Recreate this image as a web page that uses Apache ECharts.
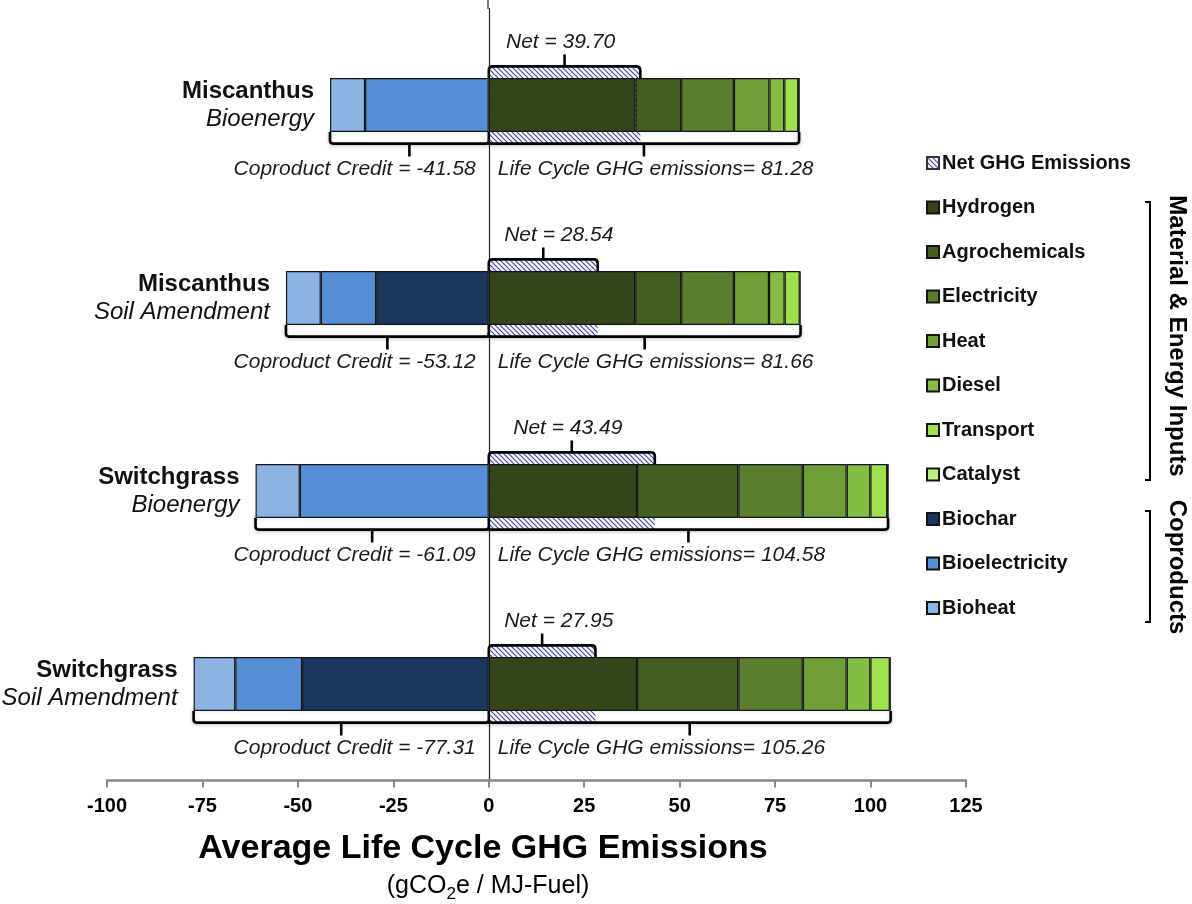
<!DOCTYPE html>
<html>
<head>
<meta charset="utf-8">
<script src="https://cdn.jsdelivr.net/npm/echarts@6/dist/echarts.min.js"></script>
<style>
html,body{margin:0;padding:0;background:#fff;}
#chart{width:1192px;height:904px;}
</style>
</head>
<body>
<div id="chart"></div>
<script>
// ---- data ----
const crops = ['Miscanthus', 'Miscanthus', 'Switchgrass', 'Switchgrass'];
const pathways = ['Bioenergy', 'Soil Amendment', 'Bioenergy', 'Soil Amendment'];
const hydrogen = [38.4, 38.35, 38.85, 38.85];
const agrochemicals = [12.0, 12.05, 26.5, 26.5];
const electricity = [13.8, 13.8, 16.9, 16.9];
const heat = [9.3, 9.2, 11.5, 11.5];
const diesel = [3.9, 4.1, 6.2, 6.2];
const transport = [3.68, 3.96, 4.43, 5.11];
const catalyst = [0.2, 0.2, 0.2, 0.2];
const biochar = [0, -29.5, 0, -48.9];
const bioelectricity = [-32.4, -14.5, -49.5, -17.5];
const bioheat = [-9.18, -9.12, -11.59, -10.91];
const netGHG = [39.70, 28.54, 43.49, 27.95];
const coproductCredit = [-41.58, -53.12, -61.09, -77.31];
const lifeCycleGHG = [81.28, 81.66, 104.58, 105.26];
const xTicks = [-100, 125, 25]; // min, max, step

const FONT = '"Liberation Sans", Arial, sans-serif';
const categories = crops.map((c, i) => c + ' ' + pathways[i]);

// hatch pattern
const pc = document.createElement('canvas');
pc.width = 5; pc.height = 5;
const pctx = pc.getContext('2d');
pctx.fillStyle = '#ffffff'; pctx.fillRect(0, 0, 5, 5);
pctx.strokeStyle = '#4545b0'; pctx.lineWidth = 1.2;
pctx.beginPath();
pctx.moveTo(-1, -1); pctx.lineTo(6, 6);
pctx.moveTo(-1, 4); pctx.lineTo(1, 6);
pctx.moveTo(4, -1); pctx.lineTo(6, 1);
pctx.stroke();
const hatch = { image: pc, repeat: 'repeat' };

const BAR_FRAC = 0.28;   // bar thickness relative to band
const NET_FRAC = 0.20;   // half height of net/bracket relative to band
const ANNOT_FONT = 'italic 21px ' + FONT;

const segStyle = (color) => ({
  color: color, borderColor: '#151515', borderWidth: 1.2
});

function barSeries(name, data, color, extra) {
  return Object.assign({
    name: name, type: 'bar', stack: 'total', data: data,
    barWidth: (BAR_FRAC * 100) + '%', z: 3,
    itemStyle: segStyle(color)
  }, extra || {});
}

const customData = categories.map((c, i) => [i, coproductCredit[i], lifeCycleGHG[i], netGHG[i]]);

const series = [
  // white strip behind bars
  {
    type: 'custom', name: 'strip', z: 1, silent: true, data: customData,
    encode: { y: 0, x: [1, 2] },
    renderItem(params, api) {
      const i = api.value(0);
      const l = api.coord([api.value(1), i]);
      const r = api.coord([api.value(2), i]);
      const bh = api.size([0, 1])[1];
      const cy = l[1];
      const y0 = cy + bh * BAR_FRAC / 2 - 2;
      const y1 = cy + bh * NET_FRAC;
      return {
        type: 'rect',
        shape: { x: l[0], y: y0, width: r[0] - l[0], height: y1 - y0 },
        style: { fill: '#ffffff', stroke: '#d0d0d0', lineWidth: 1, shadowBlur: 4, shadowColor: 'rgba(0,0,0,0.3)', shadowOffsetY: 1 }
      };
    }
  },
  // net GHG emissions
  {
    type: 'custom', name: 'Net GHG Emissions', z: 2, data: customData,
    encode: { y: 0, x: [3] },
    itemStyle: { color: hatch, borderColor: '#333', borderWidth: 1 },
    renderItem(params, api) {
      const i = api.value(0);
      const z0 = api.coord([0, i]);
      const n = api.coord([api.value(3), i]);
      const bh = api.size([0, 1])[1];
      const cy = z0[1];
      const yt = cy - bh * NET_FRAC;
      const yb = cy + bh * NET_FRAC;
      const ybar = cy - bh * BAR_FRAC / 2;
      const x0 = z0[0], x1 = n[0], rr = 4;
      const mid = (x0 + x1) / 2;
      const path = `M${x0} ${ybar}L${x0} ${yt + rr}Q${x0} ${yt} ${x0 + rr} ${yt}L${x1 - rr} ${yt}Q${x1} ${yt} ${x1} ${yt + rr}L${x1} ${ybar}M${mid} ${yt}L${mid} ${yt - 12}`;
      return {
        type: 'group',
        children: [
          { type: 'rect', shape: { x: x0, y: yt, width: x1 - x0, height: yb - yt }, style: { fill: hatch } },
          { type: 'path', shape: { pathData: path }, style: { fill: null, stroke: '#000', lineWidth: 2.6 } },
          { type: 'text', x: Math.max(mid - 4, x0 + 70), y: cy - bh * 0.325,
            style: { text: 'Net = ' + api.value(3).toFixed(2), fill: '#1a1a1a', font: ANNOT_FONT, align: 'center', verticalAlign: 'middle' } }
        ]
      };
    }
  },
  barSeries('Hydrogen', hydrogen, '#34451c'),
  barSeries('Agrochemicals', agrochemicals, '#445d21'),
  barSeries('Electricity', electricity, '#5a7e2d'),
  barSeries('Heat', heat, '#6f9d38'),
  barSeries('Diesel', diesel, '#84bc44'),
  barSeries('Transport', transport, '#9de24d'),
  barSeries('Catalyst', catalyst, '#bdf07a'),
  barSeries('Biochar', biochar, '#1b375e'),
  barSeries('Bioelectricity', bioelectricity, '#558ed5'),
  barSeries('Bioheat', bioheat, '#8db3e2', {
    label: {
      show: true, position: 'left', distance: 16,
      formatter: (p) => '{a|' + crops[p.dataIndex] + '}\n{b|' + pathways[p.dataIndex] + '}',
      rich: {
        a: { fontFamily: FONT, fontWeight: 'bold', fontSize: 24, lineHeight: 28, color: '#111', align: 'right' },
        b: { fontFamily: FONT, fontStyle: 'italic', fontSize: 24, lineHeight: 28, color: '#111', align: 'right' }
      }
    }
  }),
  // brackets and labels
  {
    type: 'custom', name: 'brackets', z: 4, silent: true, data: customData,
    encode: { y: 0, x: [1, 2] },
    renderItem(params, api) {
      const i = api.value(0);
      const l = api.coord([api.value(1), i]);
      const r = api.coord([api.value(2), i]);
      const z0 = api.coord([0, i]);
      const bh = api.size([0, 1])[1];
      const cy = l[1];
      const ya = cy + bh * BAR_FRAC / 2;
      const yb = cy + bh * NET_FRAC;
      const xl = l[0], xr = r[0], x0 = z0[0], rr = 3;
      const m1 = (xl + x0) / 2, m2 = (x0 + xr) / 2;
      const p1 = `M${xl} ${ya}L${xl} ${yb - rr}Q${xl} ${yb} ${xl + rr} ${yb}L${x0 - rr} ${yb}Q${x0} ${yb} ${x0} ${yb - rr}L${x0} ${ya}M${m1} ${yb}L${m1} ${yb + 13}`;
      const p2 = `M${x0} ${ya}L${x0} ${yb}L${xr - rr} ${yb}Q${xr} ${yb} ${xr} ${yb - rr}L${xr} ${ya}M${m2} ${yb}L${m2} ${yb + 13}`;
      const ty = cy + bh * 0.33;
      return {
        type: 'group',
        children: [
          { type: 'path', shape: { pathData: p1 + p2 }, style: { fill: null, stroke: '#000', lineWidth: 2.6 } },
          { type: 'text', x: x0 - 13, y: ty,
            style: { text: 'Coproduct Credit = ' + api.value(1).toFixed(2), fill: '#1a1a1a', font: ANNOT_FONT, align: 'right', verticalAlign: 'middle' } },
          { type: 'text', x: x0 + 9, y: ty,
            style: { text: 'Life Cycle GHG emissions= ' + api.value(2).toFixed(2), fill: '#1a1a1a', font: ANNOT_FONT, align: 'left', verticalAlign: 'middle' } }
        ]
      };
    }
  }
];

const chart = echarts.init(document.getElementById('chart'), null, { renderer: 'canvas' });
chart.setOption({
  animation: false,
  backgroundColor: '#ffffff',
  grid: { left: 107, right: 226, top: 8.5, bottom: 123.5, containLabel: false },
  xAxis: {
    type: 'value', min: xTicks[0], max: xTicks[1], interval: xTicks[2],
    axisLine: { show: true, onZero: false, lineStyle: { color: '#888888', width: 2.5 } },
    axisTick: { show: true, length: 7, lineStyle: { color: '#888888', width: 2 } },
    axisLabel: { color: '#000', fontFamily: FONT, fontWeight: 'bold', fontSize: 20, margin: 16 },
    splitLine: { show: false }
  },
  yAxis: {
    type: 'category', inverse: true, data: categories,
    axisLine: { show: true, onZero: true, lineStyle: { color: '#222', width: 1.2 } },
    axisTick: { show: false }, axisLabel: { show: false }, splitLine: { show: false }
  },
  legend: {
    orient: 'vertical', left: 926, top: 153, padding: 0,
    itemWidth: 12, itemHeight: 12, itemGap: 24.5,
    icon: 'rect',
    selectedMode: false,
    textStyle: { fontFamily: FONT, fontWeight: 'bold', fontSize: 20, lineHeight: 20, color: '#111', padding: [0, 0, 0, -2] },
    data: ['Net GHG Emissions', 'Hydrogen', 'Agrochemicals', 'Electricity', 'Heat', 'Diesel', 'Transport', 'Catalyst', 'Biochar', 'Bioelectricity', 'Bioheat']
  },
  graphic: [
    { type: 'line', shape: { x1: 488, y1: 0, x2: 488, y2: 9 }, style: { stroke: '#222', lineWidth: 1.2 } },
    { type: 'text', x: 483, y: 849, style: { text: 'Average Life Cycle GHG Emissions', font: 'bold 34px ' + FONT, fill: '#000', align: 'center', verticalAlign: 'middle' } },
    { type: 'text', x: 488, y: 886, style: {
        text: '{a|(gCO}{s|2}{a|e / MJ-Fuel)}', align: 'center', verticalAlign: 'middle',
        rich: {
          a: { fontFamily: FONT, fontSize: 25, lineHeight: 34, fill: '#000', verticalAlign: 'middle' },
          s: { fontFamily: FONT, fontSize: 17, lineHeight: 17, fill: '#000', verticalAlign: 'bottom' }
        } } },
    { type: 'text', x: 1177, y: 336, rotation: -Math.PI / 2, style: { text: 'Material & Energy Inputs', font: 'bold 24px ' + FONT, fill: '#000', align: 'center', verticalAlign: 'middle' } },
    { type: 'text', x: 1177, y: 567, rotation: -Math.PI / 2, style: { text: 'Coproducts', font: 'bold 24px ' + FONT, fill: '#000', align: 'center', verticalAlign: 'middle' } },
    { type: 'polyline', shape: { points: [[1145, 202], [1150, 202], [1150, 480], [1145, 480]] }, style: { stroke: '#000', lineWidth: 2, fill: null } },
    { type: 'polyline', shape: { points: [[1145, 511], [1150, 511], [1150, 622], [1145, 622]] }, style: { stroke: '#000', lineWidth: 2, fill: null } }
  ],
  series: series
});
</script>
</body>
</html>
